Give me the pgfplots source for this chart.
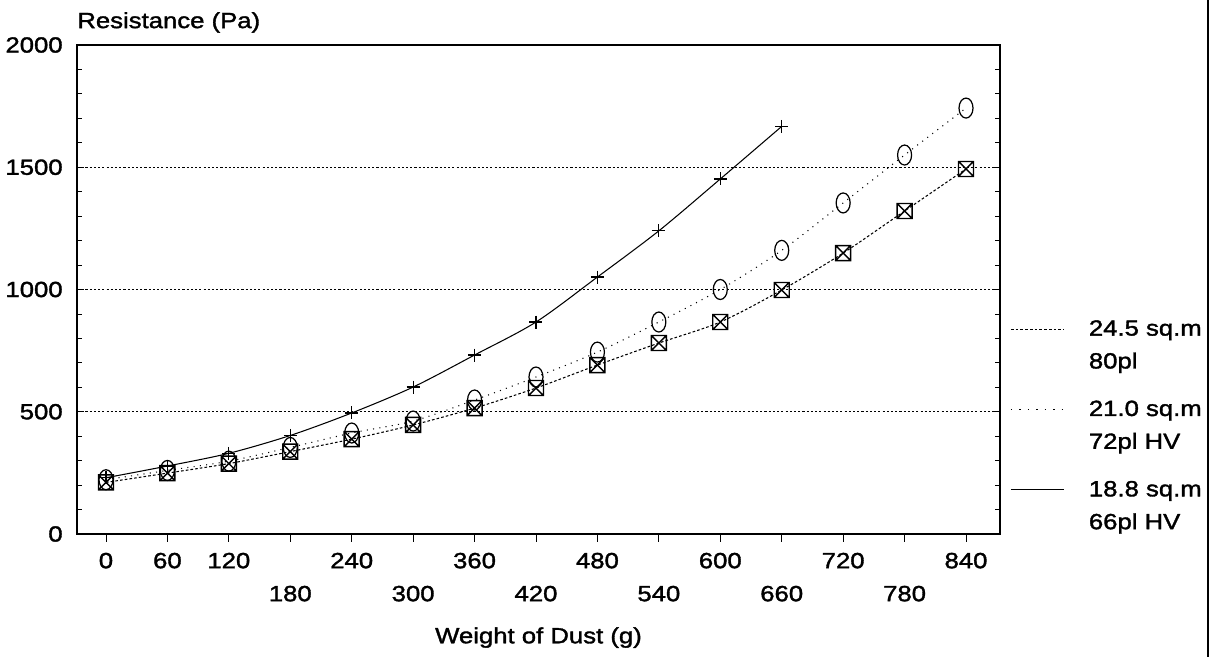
\documentclass[border=0pt]{standalone}
\usepackage{fontspec}
\setmainfont[FakeStretch=1.17, FakeBold=1.6]{Liberation Sans}
\usepackage{pgfplots}
\pgfplotsset{compat=1.18}

% box with a cross, as in the scanned plot
\pgfdeclareplotmark{boxx}{%
  \pgfpathrectangle{\pgfqpoint{-\pgfplotmarksize}{-\pgfplotmarksize}}{\pgfqpoint{2\pgfplotmarksize}{2\pgfplotmarksize}}%
  \pgfpathmoveto{\pgfqpoint{-\pgfplotmarksize}{-\pgfplotmarksize}}%
  \pgfpathlineto{\pgfqpoint{\pgfplotmarksize}{\pgfplotmarksize}}%
  \pgfpathmoveto{\pgfqpoint{-\pgfplotmarksize}{\pgfplotmarksize}}%
  \pgfpathlineto{\pgfqpoint{\pgfplotmarksize}{-\pgfplotmarksize}}%
  \pgfusepathqstroke}

\begin{document}
\begin{tikzpicture}[font=\fontsize{12.5}{18.7}\selectfont]
\useasboundingbox (-1.54,-2.46) rectangle (22.74,10.68);
\begin{axis}[
    scale only axis,
    width=18.46cm, height=9.78cm,
    xmin=-28.3, xmax=873.2,
    ymin=0, ymax=2000,
    axis line style={line width=0.8pt},
    /pgf/number format/assume math mode=true,
    /pgf/number format/1000 sep={},
    xtick={0,60,120,240,360,480,600,720,840},
    extra x ticks={180,300,420,540,660,780},
    extra x tick style={xticklabel style={yshift=-0.66cm}},
    xtick pos=bottom,
    xtick align=outside,
    ytick={0,500,1000,1500,2000},
    minor y tick num=4,
    ytick align=inside,
    major tick length=0.15cm,
    minor tick length=0.1cm,
    tick style={line width=0.5pt, black},
    xticklabel style={inner sep=0pt, anchor=north, yshift=-0.22cm},
    yticklabel style={inner sep=0pt, anchor=east, xshift=-0.28cm},
    ymajorgrids,
    major grid style={dash pattern=on 1.2pt off 1.2pt, line width=0.5pt, black},
    xlabel={Weight of Dust (g)},
    ylabel={Resistance (Pa)},
    every axis x label/.style={at={(axis description cs:0.5,0)}, anchor=north, inner sep=0pt, yshift=-1.86cm},
    every axis y label/.style={at={(axis description cs:0,1)}, anchor=south west, inner sep=0pt, yshift=0.24cm},
    legend image code/.code={\draw[#1] (0cm,0.33cm) -- (1.06cm,0.33cm);},
    legend style={at={(rel axis cs:1.011,0.445)}, anchor=north west, draw=none, fill=none,
        inner sep=0pt, row sep=0.45cm, cells={anchor=west, align=left},
        /tikz/every odd column/.append style={column sep=0.42cm}},
    legend cell align=left,
]
% 24.5 sq.m 80pl
\addplot[forget plot, smooth, black, line width=0.6pt, dash pattern=on 1.5pt off 1.2pt,
    mark=boxx, mark size=0.15cm, mark options={solid, line width=0.8pt}] coordinates {
    (0,211) (60,249) (120,288) (180,337) (240,388) (300,446) (360,515) (420,597)
    (480,691) (540,781) (600,867) (660,998) (720,1149) (780,1321) (840,1493)};
% 21.0 sq.m 72pl HV
\addplot[forget plot, smooth, black, line width=0.6pt, dash pattern=on 0.6pt off 3pt,
    mark=o, mark size=0.2cm, mark options={solid, xscale=0.7, line width=0.7pt}] coordinates {
    (0,222) (60,260) (120,298) (180,354) (240,413) (300,462) (360,548) (420,642)
    (480,744) (540,867) (600,1000) (660,1160) (720,1354) (780,1550) (840,1742)};
% 18.8 sq.m 66pl HV
\addplot[forget plot, smooth, black, line width=0.6pt,
    mark=+, mark size=0.13cm, mark options={solid, line width=0.7pt}] coordinates {
    (0,230) (60,278) (120,330) (180,403) (240,495) (300,601) (360,732) (420,867)
    (480,1051) (540,1240) (600,1452) (660,1667)};

\addlegendimage{black, line width=0.5pt, dash pattern=on 1.5pt off 1.2pt}
\addlegendentry{24.5 sq.m\\80pl}
\addlegendimage{black, line width=0.5pt, dash pattern=on 0.8pt off 4pt}
\addlegendentry{21.0 sq.m\\72pl HV}
\addlegendimage{black, line width=0.5pt}
\addlegendentry{18.8 sq.m\\66pl HV}
\end{axis}
\draw[line width=0.9pt] (22.62,-2.46) -- (22.62,10.68);
\end{tikzpicture}
\end{document}
